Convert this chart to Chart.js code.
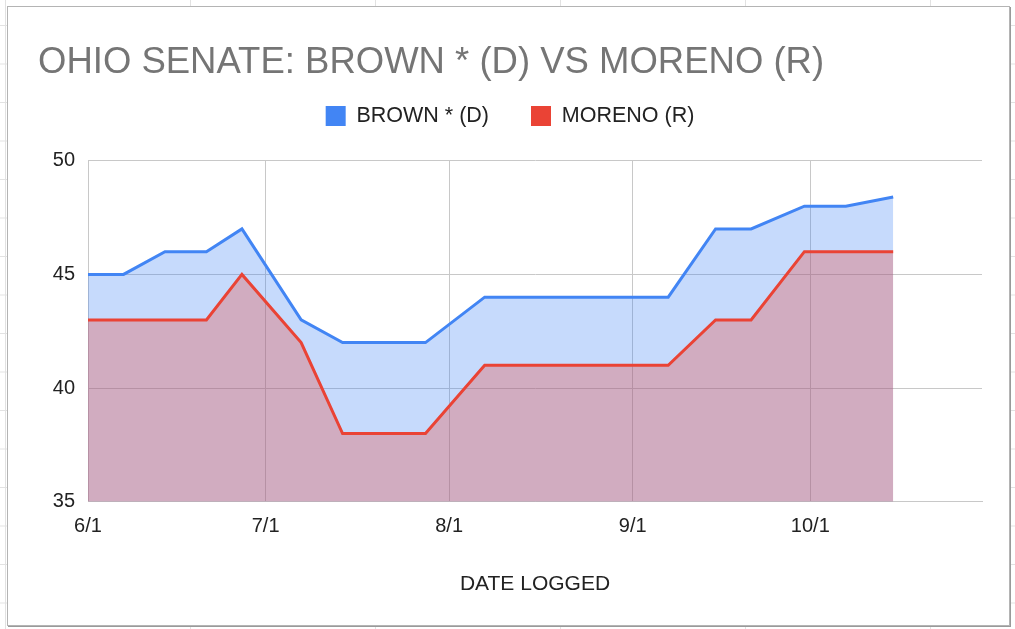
<!DOCTYPE html>
<html>
<head>
<meta charset="utf-8">
<script src="https://cdn.jsdelivr.net/npm/chart.js@4.4.1/dist/chart.umd.min.js"></script>
<style>
  html, body { margin: 0; padding: 0; }
  body {
    width: 1015px; height: 629px; overflow: hidden; position: relative;
    background-color: #fff;
    background-image: linear-gradient(to right, #e2e2e2 1px, transparent 1px),
                      linear-gradient(to bottom, #e2e2e2 1px, transparent 1px);
    background-size: 185px 38.5px;
    background-position: 5px 25px;
  }
  #frame {
    position: absolute; left: 7px; top: 6px; width: 1003px; height: 620px;
    box-sizing: border-box; background: #fff;
    border: 1px solid #b4b4b4; box-shadow: 1px 1px 0 #9a9a9a;
  }
  #wrap { position: absolute; left: 0; top: 0; width: 1001px; height: 618px; }
</style>
</head>
<body>
<div id="frame"><div id="wrap"><canvas id="myChart"></canvas></div></div>
<script>
// poll dates (2024) and numbers
const dates = ['6/1','6/7','6/14','6/21','6/27','7/7','7/14','7/28','8/7','9/7','9/15','9/21','9/30','10/7','10/15'];
const brown = [45, 45, 46, 46, 47, 43, 42, 42, 44, 44, 47, 47, 48, 48, 48.4];
const moreno = [43, 43, 43, 43, 45, 42, 38, 38, 41, 41, 43, 43, 46, 46, 46];
const tickDates = ['6/1', '7/1', '8/1', '9/1', '10/1'];
const yTicks = [35, 40, 45, 50];

// days since 6/1
function dayOf(s){
  var p = s.split('/').map(Number);
  return (Date.UTC(2024, p[0]-1, p[1]) - Date.UTC(2024, 5, 1)) / 86400000;
}

function points(vals){
  return dates.map(function(d, i){ return {x: dayOf(d), y: vals[i]}; });
}

const font = "'Liberation Sans', Arial, sans-serif";

// extra room between legend and plot
const legendGap = {
  id: 'legendGap',
  beforeInit(chart){
    const fit = chart.legend.fit;
    chart.legend.fit = function(){ fit.call(this); this.height += 24; };
  }
};

var ctx = document.getElementById('myChart').getContext('2d');
window.myChart = new Chart(ctx, {
  type: 'line',
  data: {
    datasets: [{
      label: 'BROWN * (D)',
      data: points(brown),
      borderColor: '#4285F4',
      backgroundColor: 'rgba(66,133,244,0.3)',
      borderWidth: 3,
      fill: 'start',
      pointRadius: 0,
      order: 2
    }, {
      label: 'MORENO (R)',
      data: points(moreno),
      borderColor: '#EA4335',
      backgroundColor: 'rgba(234,67,53,0.3)',
      borderWidth: 3,
      fill: 'start',
      pointRadius: 0,
      order: 1
    }]
  },
  options: {
    responsive: true,
    maintainAspectRatio: false,
    animation: false,
    layout: { padding: { left: 30, right: 27, top: 0, bottom: 0 } },
    plugins: {
      title: {
        display: true,
        text: 'OHIO SENATE: BROWN * (D) VS MORENO (R)',
        align: 'start',
        color: '#757575',
        font: { family: font, size: 36.5, weight: 'normal', lineHeight: 1.2 },
        padding: { top: 34, bottom: -21.6 }
      },
      legend: {
        labels: {
          color: '#222',
          font: { family: font, size: 21.5 },
          boxWidth: 20,
          boxHeight: 20,
          padding: 42,
          sort: function(a, b){ return a.datasetIndex - b.datasetIndex; },
          generateLabels: function(chart){
            var items = Chart.defaults.plugins.legend.labels.generateLabels(chart);
            items.forEach(function(it){
              it.fillStyle = chart.data.datasets[it.datasetIndex].borderColor;
              it.lineWidth = 0;
              it.strokeStyle = 'transparent';
            });
            return items;
          }
        }
      },
      tooltip: { enabled: false }
    },
    scales: {
      x: {
        type: 'linear',
        min: 0,
        max: dayOf('10/30'),
        afterBuildTicks: function(axis){
          axis.ticks = tickDates.map(function(t){ return {value: dayOf(t)}; });
        },
        ticks: {
          color: '#222',
          font: { family: font, size: 20 },
          padding: 13,
          maxRotation: 0,
          autoSkip: false,
          callback: function(v){
            var i = tickDates.findIndex(function(t){ return dayOf(t) === v; });
            return i >= 0 ? tickDates[i] : '';
          }
        },
        grid: { color: '#c8c8c8', drawTicks: false },
        border: { color: '#c8c8c8' },
        title: {
          display: true,
          text: 'DATE LOGGED',
          color: '#222',
          font: { family: font, size: 21 },
          padding: { top: 20, bottom: 28 }
        }
      },
      y: {
        min: 35,
        max: 50,
        afterBuildTicks: function(axis){
          axis.ticks = yTicks.map(function(v){ return {value: v}; });
        },
        afterFit: function(axis){ axis.width = 50; },
        ticks: {
          color: '#222',
          font: { family: font, size: 20 },
          padding: 13
        },
        grid: { color: '#c8c8c8', drawTicks: false },
        border: { color: '#c8c8c8' }
      }
    }
  },
  plugins: [legendGap]
});
</script>
</body>
</html>
